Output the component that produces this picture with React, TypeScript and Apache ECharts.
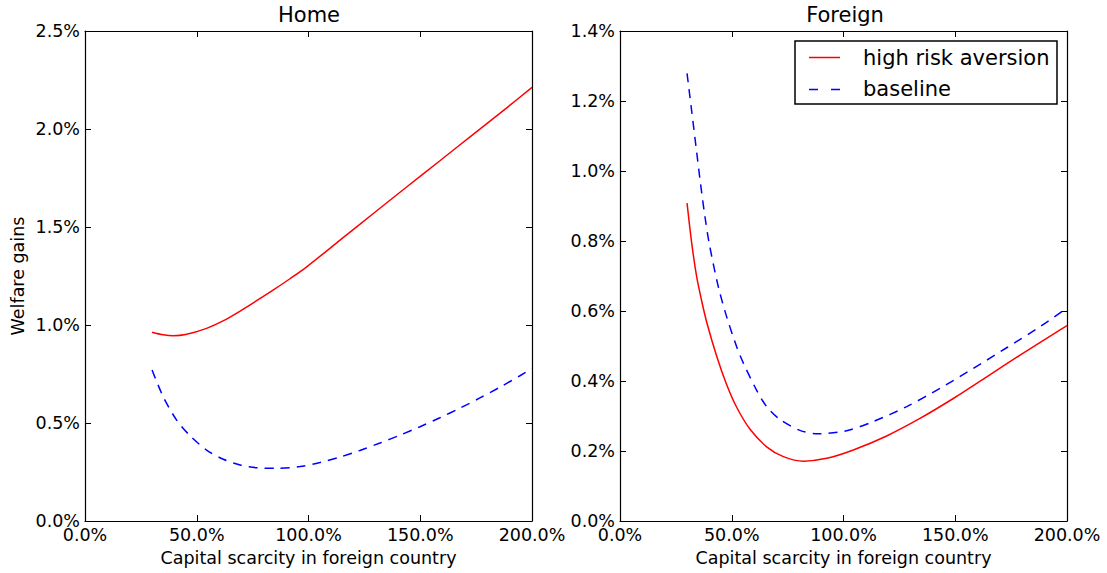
import React, { useEffect, useRef } from "react";
import * as echarts from "echarts";

// Home panel
const homeRedX = [30, 35, 39.5, 45, 54.4, 62, 69.4, 76.8, 84.3, 91.7, 99.2, 114.1, 129, 143.9, 158.8, 173.7, 188.7, 200];
const homeRedY = [0.963, 0.95, 0.945, 0.951, 0.983, 1.022, 1.071, 1.124, 1.179, 1.236, 1.297, 1.433, 1.569, 1.704, 1.838, 1.973, 2.108, 2.212];
const homeBlueX = [30, 35, 41, 47, 54.4, 61.9, 69.4, 76.8, 85.8, 96.2, 105.1, 114.1, 123, 132, 140.9, 149.9, 158.8, 167.8, 176.7, 185.7, 194.6, 200];
const homeBlueY = [0.77, 0.634, 0.515, 0.435, 0.362, 0.315, 0.286, 0.272, 0.269, 0.278, 0.298, 0.326, 0.36, 0.398, 0.438, 0.481, 0.527, 0.576, 0.628, 0.683, 0.741, 0.778];

// Foreign panel
const foreignRedX = [30, 32.1, 34.3, 36.5, 38.8, 43.3, 47.7, 52.2, 58.2, 65.6, 73.1, 82, 92.5, 104.4, 119.3, 134.2, 149.1, 164.1, 179, 193.9, 200];
const foreignRedY = [0.908, 0.793, 0.698, 0.63, 0.568, 0.47, 0.39, 0.325, 0.262, 0.212, 0.184, 0.171, 0.179, 0.203, 0.243, 0.293, 0.35, 0.412, 0.474, 0.534, 0.558];
const foreignBlueX = [30, 32, 34, 36, 38, 40, 44, 47.7, 52.2, 55.2, 61.1, 65.6, 71.6, 80.5, 88.7, 101.4, 113.3, 128.3, 143.2, 158.1, 173, 187.9, 200];
const foreignBlueY = [1.279, 1.175, 1.07, 0.965, 0.87, 0.79, 0.669, 0.584, 0.498, 0.451, 0.374, 0.327, 0.29, 0.259, 0.249, 0.258, 0.284, 0.327, 0.379, 0.436, 0.495, 0.555, 0.609];

const seriesNames = ["high risk aversion", "baseline"];
const panelTitles = ["Home", "Foreign"];
const xAxisName = "Capital scarcity in foreign country";
const yAxisName = "Welfare gains";

const FONT = "DejaVu Sans";
const pairs = (xs: number[], ys: number[]) => xs.map((x, i) => [x, ys[i]]);
const pct = (v: number) => v.toFixed(1) + "%";

export default function App() {
  const ref = useRef<HTMLDivElement>(null);
  useEffect(() => {
    const chart = echarts.init(ref.current!, null, { renderer: "svg" });
    const axisLine = { show: true, onZero: false, lineStyle: { color: "#000", width: 1.2 } };
    const tick = { show: true, inside: true, length: 6, lineStyle: { color: "#000", width: 1 } };
    const lbl = { color: "#000", fontFamily: FONT, fontSize: 17.5, formatter: pct };
    const xMain = (g: number) => ({
      type: "value", gridIndex: g, position: "bottom", min: 0, max: 200, interval: 50,
      axisLine, axisTick: tick, splitLine: { show: false },
      axisLabel: { ...lbl, margin: 5, showMaxLabel: true, showMinLabel: true },
      name: xAxisName, nameLocation: "middle", nameGap: 26,
      nameTextStyle: { color: "#000", fontFamily: FONT, fontSize: 17.5 },
    });
    const xTop = (g: number) => ({
      type: "value", gridIndex: g, position: "top", min: 0, max: 200, interval: 50,
      axisLine, axisTick: tick, splitLine: { show: false }, axisLabel: { show: false },
    });
    const yMain = (g: number, max: number, interval: number, withName: boolean) => ({
      type: "value", gridIndex: g, position: "left", min: 0, max, interval,
      axisLine, axisTick: tick, splitLine: { show: false },
      axisLabel: { ...lbl, margin: 5 },
      name: withName ? yAxisName : "", nameLocation: "middle", nameGap: 58,
      nameTextStyle: { color: "#000", fontFamily: FONT, fontSize: 17.5 },
    });
    const yRight = (g: number, max: number, interval: number) => ({
      type: "value", gridIndex: g, position: "right", min: 0, max, interval,
      axisLine, axisTick: tick, splitLine: { show: false }, axisLabel: { show: false },
    });
    const line = (name: string, x: number, y: number, data: number[][], dashed: boolean) => ({
      type: "line", name, xAxisIndex: x, yAxisIndex: y, data, smooth: 0.3,
      symbol: "none", showSymbol: false, clip: true,
      lineStyle: { color: dashed ? "#0000ff" : "#ff0000", width: 1.5, type: dashed ? [9, 7] : "solid" },
      itemStyle: { color: dashed ? "#0000ff" : "#ff0000" },
    });
    chart.setOption({
      animation: false,
      backgroundColor: "#fff",
      grid: [
        { left: 85, top: 31, width: 447, height: 490 },
        { left: 620, top: 31, width: 447, height: 490 },
      ],
      xAxis: [xMain(0), xTop(0), xMain(1), xTop(1)],
      yAxis: [yMain(0, 2.5, 0.5, true), yRight(0, 2.5, 0.5), yMain(1, 1.4, 0.2, false), yRight(1, 1.4, 0.2)],
      series: [
        line(seriesNames[0], 0, 0, pairs(homeRedX, homeRedY), false),
        line(seriesNames[1], 0, 0, pairs(homeBlueX, homeBlueY), true),
        line(seriesNames[0], 2, 2, pairs(foreignRedX, foreignRedY), false),
        line(seriesNames[1], 2, 2, pairs(foreignBlueX, foreignBlueY), true),
      ],
      graphic: [
        { type: "text", x: 309, y: 15, z: 100, style: { text: panelTitles[0], fill: "#000", font: `21px '${FONT}'`, textAlign: "center", textVerticalAlign: "middle" } },
        { type: "text", x: 845, y: 15, z: 100, style: { text: panelTitles[1], fill: "#000", font: `21px '${FONT}'`, textAlign: "center", textVerticalAlign: "middle" } },
        { type: "rect", z: 100, shape: { x: 795, y: 41, width: 262, height: 63 }, style: { fill: "#fff", stroke: "#000", lineWidth: 1.5 } },
        { type: "line", z: 101, shape: { x1: 809, y1: 57.5, x2: 840, y2: 57.5 }, style: { stroke: "#ff0000", lineWidth: 1.5 } },
        { type: "line", z: 101, shape: { x1: 809, y1: 89.5, x2: 840, y2: 89.5 }, style: { stroke: "#0000ff", lineWidth: 1.5, lineDash: [9, 13] } },
        { type: "text", x: 863, y: 58, z: 101, style: { text: seriesNames[0], fill: "#000", font: `21px '${FONT}'`, textAlign: "left", textVerticalAlign: "middle" } },
        { type: "text", x: 863, y: 89, z: 101, style: { text: seriesNames[1], fill: "#000", font: `21px '${FONT}'`, textAlign: "left", textVerticalAlign: "middle" } },
      ],
    });
    return () => chart.dispose();
  }, []);
  return <div ref={ref} style={{ position: "fixed", left: 0, top: 0, width: 1107, height: 573 }} />;
}
